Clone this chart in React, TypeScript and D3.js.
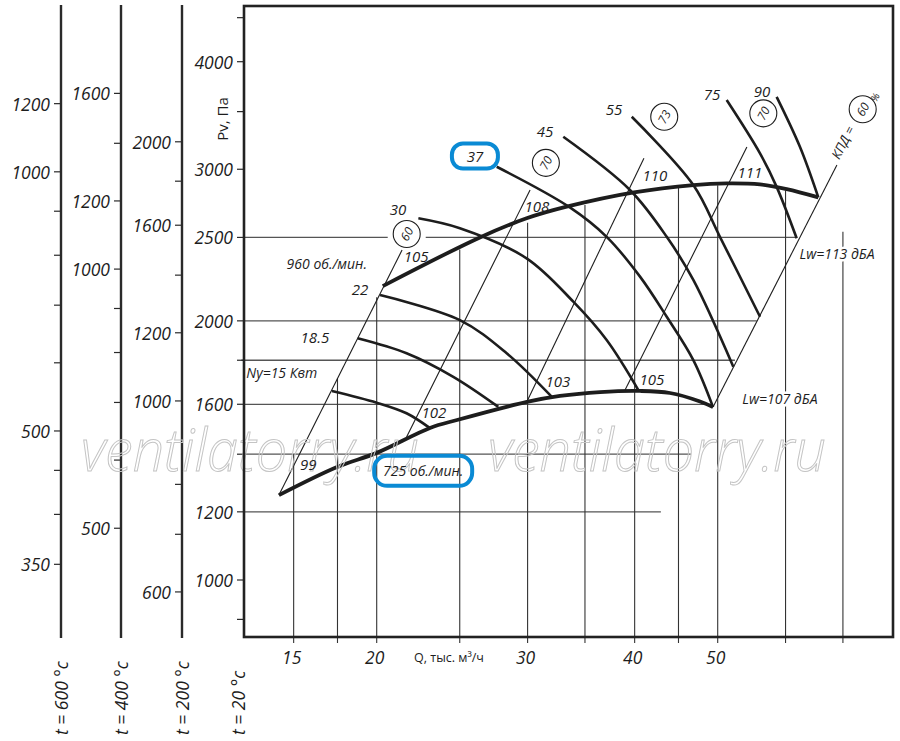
import React from 'react';
import * as d3 from 'd3';

// ---------- axis data ----------
const qGridValues = [16, 18, 20, 25, 30, 35, 40, 45, 50, 60, 70];
const qGridTopP = [1400, 1715, 2130, 2420, 2600, 2727, 2823, 2861, 2875, 2834, 2538];
const qLabelValues = [16, 20, 30, 40, 50];
const qLabelTexts = ['15', '20', '30', '40', '50'];

const pvTicks = [900, 1000, 1200, 1400, 1600, 1800, 2000, 2500, 3000, 3500, 4000, 4500];
const pvLabels = [1000, 1200, 1600, 2000, 2500, 3000, 4000];
const hGridP = [2500, 2000, 1800, 1600, 1400, 1200];
const hGridStartQ = [14, 14, 13.9, 14, 14, 14];
const hGridEndQ = [61.87, 55.53, 52.37, 49.09, 46.51, 42.92];

const auxTemps = [600, 400, 200];
const auxTicks = [
  [350, 400, 450, 500, 600, 700, 800, 900, 1000, 1200],
  [500, 600, 700, 800, 900, 1000, 1200, 1400, 1600],
  [600, 700, 800, 1000, 1200, 1400, 1600, 1800, 2000],
];
const auxLabels = [
  [350, 500, 1000, 1200],
  [500, 1000, 1200, 1600],
  [600, 1000, 1200, 1600, 2000],
];
const tempLabels = ['t = 600 °c', 't = 400 °c', 't = 200 °c', 't = 20 °c'];

// ---------- curves (Q thousand m3/h, Pv Pa) ----------
const rpm725 = [[15.38, 1255], [17.98, 1353], [20, 1405], [23.08, 1502], [24.82, 1534], [29.94, 1610], [32.73, 1636], [36.45, 1653], [40.58, 1658], [43.98, 1649], [47.68, 1612], [49.38, 1588]];
const rpm960 = [[20.33, 2195], [26.39, 2500], [29.92, 2631], [33.32, 2714], [39.93, 2820], [46.83, 2876], [51.22, 2889], [56.02, 2881], [60.18, 2845], [65.52, 2783]];

const power15 = [[17.73, 1658], [20, 1607], [21.67, 1562], [23.08, 1501]];
const power18 = [[19.0, 1909], [21.67, 1834], [24.57, 1722], [27.73, 1589]];
const power22 = [[20.18, 2143], [25.01, 2004], [28.36, 1834], [32.0, 1633]];
const power30 = [[22.37, 2631], [25.01, 2562], [29.92, 2364], [33.92, 2105], [37.1, 1900], [40.4, 1662]];
const power37 = [[27.61, 3020], [33.61, 2709], [37.1, 2504], [40.58, 2251], [43.6, 2022], [46.83, 1801], [49.38, 1588]];
const power45 = [[33.02, 3272], [39.5, 2838], [43.6, 2504], [46.83, 2231], [52.14, 1769]];
const power55 = [[39.69, 3452], [46.83, 2876], [50.3, 2504], [56.02, 2022]];
const power75 = [[51.22, 3610], [56.02, 3130], [58.58, 2862], [61.82, 2494]];
const power90 = [[58.58, 3641], [62.36, 3186], [65.52, 2783]];
const powerCurves = [power15, power18, power22, power30, power37, power45, power55, power75, power90];

const powerLabelText = ['Ny=15 Квт', '18.5', '22', '30', '37', '45', '55', '75', '90'];
const powerLabelQ = [15.5, 16.94, 19.12, 21.18, 26.04, 31.44, 37.83, 49.25, 56.33];
const powerLabelP = [1740, 1915, 2178, 2697, 3108, 3322, 3524, 3668, 3698];

// efficiency lines (two end points each)
const effLabel = ['60', '70', '73', '70', '60'];
const effQ1 = [15.38, 21.67, 29.92, 38.98, 49.38];
const effP1 = [1255, 1466, 1609, 1662, 1588];
const effQ2 = [21.41, 30.2, 41.01, 54.08, 68.88];
const effP2 = [2417, 2838, 3089, 3184, 3034];
const effCircleQ = [21.68, 31.51, 43.31, 56.52, 73.82];
const effCircleP = [2523, 3052, 3452, 3484, 3522];

// sound level labels
const dbText = ['99', '102', '103', '105', '105', '108', '110', '111'];
const dbQ = [16.64, 23.32, 32.54, 41.9, 22.23, 30.76, 42.24, 54.53];
const dbP = [1363, 1567, 1703, 1712, 2379, 2719, 2954, 2978];

const rpmLabelText = ['960 об./мин.', '725 об./мин.'];
const rpmLabelQ = [17.49, 22.66];
const rpmLabelP = [2331, 1339];

const lwText = ['Lw=107 дБА', 'Lw=113 дБА'];
const lwQ = [59.1, 68.9];
const lwP = [1623, 2392];

const watermarkQ = [14.23, 42.47];
const watermarkP = [1337, 1337];

// ---------- layout ----------
const W = 900, H = 741;
const frame = { left: 244, top: 6, right: 893, bottom: 637 };
const auxX = [61, 121, 182];
const FONT = "'Open Sans', 'Noto Sans', 'DejaVu Sans', sans-serif";
const INK = '#1d1d1d';
const BLUE = '#0a8ad4';

export default function App() {
  const x = d3.scaleLog().domain([20, 50]).range([376.7, 717.7]);
  const y = d3.scaleLog().domain([1000, 4000]).range([580, 61.7]);
  const auxY = (t: number) => (p: number) => y((p * (273 + t)) / 293);

  const line = d3
    .line<number[]>()
    .x((d) => x(d[0]))
    .y((d) => y(d[1]))
    .curve(d3.curveCatmullRom.alpha(0.5));

  const txt = { fontFamily: FONT, fontStyle: 'italic' as const, fill: INK };

  return (
    <svg width={W} height={H} style={{ position: 'absolute', left: 0, top: 0, background: '#fff' }}>
      <rect x={0} y={0} width={W} height={H} fill="#fff" />

      {/* auxiliary temperature axes */}
      {auxTemps.map((t, i) => {
        const ya = auxY(t);
        const ax = auxX[i];
        return (
          <g key={'aux' + t}>
            <line x1={ax} x2={ax} y1={5} y2={frame.bottom + 1} stroke="#2a2a2a" strokeWidth={2.4} />
            {auxTicks[i].map((v) => (
              <line key={v} x1={ax - 7} x2={ax} y1={ya(v)} y2={ya(v)} stroke="#2a2a2a" strokeWidth={1.2} />
            ))}
            {auxLabels[i].map((v) => (
              <text key={'l' + v} x={ax - 11} y={ya(v)} textAnchor="end" dominantBaseline="central" fontSize={17.5} {...txt}>
                {v}
              </text>
            ))}
          </g>
        );
      })}

      {/* temperature captions */}
      {tempLabels.map((s, i) => {
        const cx = i < 3 ? auxX[i] + 1 : frame.left - 5;
        return (
          <text key={s} transform={`translate(${cx + 6},735) rotate(-90)`} textAnchor="start" fontSize={17.5} {...txt}>
            {s}
          </text>
        );
      })}

      {/* horizontal grid */}
      {hGridP.map((p, i) => (
        <line key={'h' + p} x1={x(hGridStartQ[i])} x2={x(hGridEndQ[i])} y1={y(p)} y2={y(p)} stroke="#555" strokeWidth={1.3} />
      ))}

      {/* vertical grid */}
      {qGridValues.map((q, i) => (
        <line key={'v' + q} x1={x(q)} x2={x(q)} y1={frame.bottom + 6} y2={y(qGridTopP[i])} stroke="#333" strokeWidth={1.1} />
      ))}

      {/* main axis ticks and labels */}
      {pvTicks.map((p) => (
        <line key={'t' + p} x1={frame.left - 7} x2={frame.left} y1={y(p)} y2={y(p)} stroke="#2a2a2a" strokeWidth={1.2} />
      ))}
      {pvLabels.map((p) => (
        <text key={'pl' + p} x={frame.left - 11} y={y(p)} textAnchor="end" dominantBaseline="central" fontSize={17.5} {...txt}>
          {p}
        </text>
      ))}
      {qLabelValues.map((q, i) => (
        <text key={'ql' + q} x={x(q) - 2} y={657} textAnchor="middle" dominantBaseline="central" fontSize={17.5} {...txt}>
          {qLabelTexts[i]}
        </text>
      ))}
      <text x={449} y={657} textAnchor="middle" dominantBaseline="central" fontSize={12.5} {...txt} fontStyle="normal">
        Q, тыс. м³/ч
      </text>
      <text transform="translate(222,119) rotate(-90)" textAnchor="middle" dominantBaseline="central" fontSize={15} {...txt} fontStyle="normal">
        Pv, Па
      </text>

      {/* efficiency (system) lines */}
      {effLabel.map((s, i) => (
        <line
          key={'e' + i}
          x1={x(effQ1[i])}
          y1={y(effP1[i])}
          x2={x(effQ2[i])}
          y2={y(effP2[i])}
          stroke={INK}
          strokeWidth={1.1}
        />
      ))}

      {/* constant power curves */}
      {powerCurves.map((c, i) => (
        <path key={'pc' + i} d={line(c) || ''} fill="none" stroke={INK} strokeWidth={2.6} />
      ))}

      {/* rpm curves */}
      <path d={line(rpm725) || ''} fill="none" stroke={INK} strokeWidth={3.8} />
      <path d={line(rpm960) || ''} fill="none" stroke={INK} strokeWidth={3.8} />

      {/* efficiency circles */}
      {effLabel.map((s, i) => {
        const cx = x(effCircleQ[i]);
        const cy = y(effCircleP[i]);
        return (
          <g key={'c' + i}>
            {i === 0 && <rect x={cx - 19} y={cy + 1} width={38} height={6} fill="#fff" />}
            <circle cx={cx} cy={cy} r={13.5} fill="#fff" stroke={INK} strokeWidth={1.1} />
            <text transform={`translate(${cx},${cy}) rotate(-62)`} textAnchor="middle" dominantBaseline="central" fontSize={12} {...txt}>
              {s}
            </text>
          </g>
        );
      })}
      <text
        transform={`translate(${x(69.97)},${y(3223)}) rotate(-63)`}
        textAnchor="middle"
        dominantBaseline="central"
        fontSize={13}
        {...txt}
      >
        КПД =
      </text>
      <text transform={`translate(${x(76.26)},${y(3639)}) rotate(-63)`} textAnchor="middle" dominantBaseline="central" fontSize={10} {...txt}>
        %
      </text>

      {/* watermark */}
      {watermarkQ.map((q, i) => (
        <text
          key={'wm' + i}
          x={x(q)}
          y={y(watermarkP[i])}
          textAnchor="middle"
          fontSize={58}
          fontFamily={FONT}
          fontStyle="italic"
          fontWeight={300}
          fill="none"
          stroke="#c4c4c4"
          strokeWidth={1}
          textLength={338}
          lengthAdjust="spacingAndGlyphs"
        >
          ventilatorry.ru
        </text>
      ))}

      {/* power labels */}
      {powerLabelText.map((s, i) => (
        <text key={'pw' + i} x={x(powerLabelQ[i])} y={y(powerLabelP[i])} textAnchor="middle" dominantBaseline="central" fontSize={i === 0 ? 14 : 15} {...txt}>
          {s}
        </text>
      ))}
      {/* blue highlight around 37 */}
      <rect x={x(powerLabelQ[4]) - 23} y={y(powerLabelP[4]) - 12.5} width={46} height={25} rx={11} fill="none" stroke={BLUE} strokeWidth={4} />

      {/* sound level labels */}
      {dbText.map((s, i) => (
        <text key={'db' + i} x={x(dbQ[i])} y={y(dbP[i])} textAnchor="middle" dominantBaseline="central" fontSize={15} {...txt}>
          {s}
        </text>
      ))}

      {/* rpm labels */}
      {rpmLabelText.map((s, i) => (
        <text key={'rl' + i} x={x(rpmLabelQ[i])} y={y(rpmLabelP[i])} textAnchor="middle" dominantBaseline="central" fontSize={14} {...txt}>
          {s}
        </text>
      ))}
      <rect x={x(rpmLabelQ[1]) - 49} y={y(rpmLabelP[1]) - 15} width={98} height={30} rx={13} fill="none" stroke={BLUE} strokeWidth={4} />

      {/* Lw labels */}
      {lwText.map((s, i) => (
        <text
          key={'lw' + i}
          x={x(lwQ[i])}
          y={y(lwP[i])}
          textAnchor="middle"
          dominantBaseline="central"
          fontSize={14}
          {...txt}
          stroke="#fff"
          strokeWidth={5}
          paintOrder="stroke"
        >
          {s}
        </text>
      ))}

      {/* frame */}
      <rect x={frame.left} y={frame.top} width={frame.right - frame.left} height={frame.bottom - frame.top} fill="none" stroke="#222" strokeWidth={2.6} />
    </svg>
  );
}
